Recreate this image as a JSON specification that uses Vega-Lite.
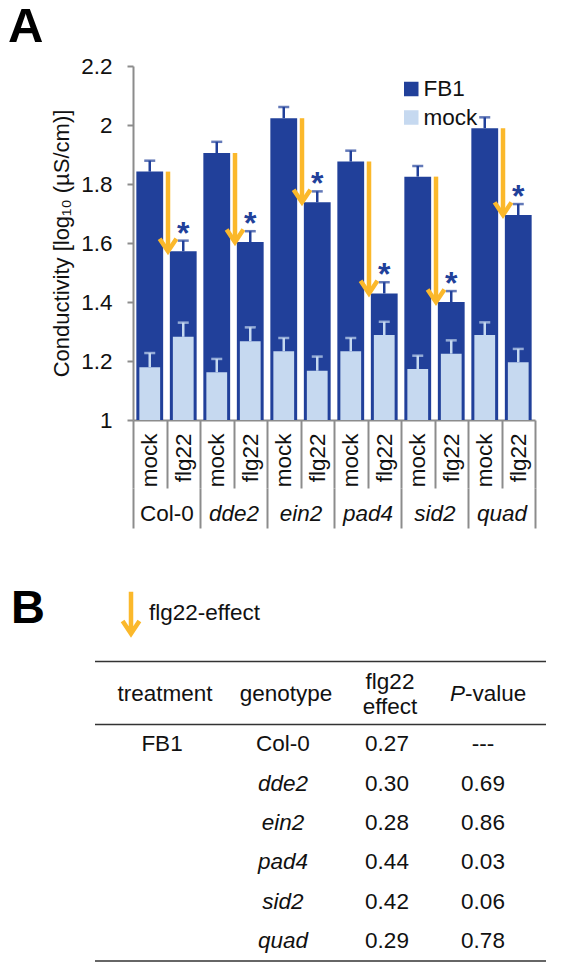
{
  "$schema": "https://vega.github.io/schema/vega-lite/v6.json",
  "background": "white",
  "padding": {"left": 8, "top": 3, "right": 5, "bottom": 5},
  "bounds": "flush",
  "spacing": 265,
  "datasets": {
    "bars": [
      {"bar": "Col-0 mock", "genotype": "Col-0", "elicitor": "mock", "treatment": "FB1", "mean": 1.842, "upper": 1.879},
      {"bar": "Col-0 mock", "genotype": "Col-0", "elicitor": "mock", "treatment": "mock", "mean": 1.179, "upper": 1.227},
      {"bar": "Col-0 flg22", "genotype": "Col-0", "elicitor": "flg22", "treatment": "FB1", "mean": 1.572, "upper": 1.608},
      {"bar": "Col-0 flg22", "genotype": "Col-0", "elicitor": "flg22", "treatment": "mock", "mean": 1.282, "upper": 1.330},
      {"bar": "dde2 mock", "genotype": "dde2", "elicitor": "mock", "treatment": "FB1", "mean": 1.905, "upper": 1.943},
      {"bar": "dde2 mock", "genotype": "dde2", "elicitor": "mock", "treatment": "mock", "mean": 1.162, "upper": 1.207},
      {"bar": "dde2 flg22", "genotype": "dde2", "elicitor": "flg22", "treatment": "FB1", "mean": 1.603, "upper": 1.640},
      {"bar": "dde2 flg22", "genotype": "dde2", "elicitor": "flg22", "treatment": "mock", "mean": 1.267, "upper": 1.314},
      {"bar": "ein2 mock", "genotype": "ein2", "elicitor": "mock", "treatment": "FB1", "mean": 2.023, "upper": 2.061},
      {"bar": "ein2 mock", "genotype": "ein2", "elicitor": "mock", "treatment": "mock", "mean": 1.233, "upper": 1.278},
      {"bar": "ein2 flg22", "genotype": "ein2", "elicitor": "flg22", "treatment": "FB1", "mean": 1.738, "upper": 1.775},
      {"bar": "ein2 flg22", "genotype": "ein2", "elicitor": "flg22", "treatment": "mock", "mean": 1.167, "upper": 1.215},
      {"bar": "pad4 mock", "genotype": "pad4", "elicitor": "mock", "treatment": "FB1", "mean": 1.876, "upper": 1.913},
      {"bar": "pad4 mock", "genotype": "pad4", "elicitor": "mock", "treatment": "mock", "mean": 1.233, "upper": 1.278},
      {"bar": "pad4 flg22", "genotype": "pad4", "elicitor": "flg22", "treatment": "FB1", "mean": 1.429, "upper": 1.467},
      {"bar": "pad4 flg22", "genotype": "pad4", "elicitor": "flg22", "treatment": "mock", "mean": 1.288, "upper": 1.333},
      {"bar": "sid2 mock", "genotype": "sid2", "elicitor": "mock", "treatment": "FB1", "mean": 1.825, "upper": 1.861},
      {"bar": "sid2 mock", "genotype": "sid2", "elicitor": "mock", "treatment": "mock", "mean": 1.173, "upper": 1.218},
      {"bar": "sid2 flg22", "genotype": "sid2", "elicitor": "flg22", "treatment": "FB1", "mean": 1.400, "upper": 1.437},
      {"bar": "sid2 flg22", "genotype": "sid2", "elicitor": "flg22", "treatment": "mock", "mean": 1.225, "upper": 1.270},
      {"bar": "quad mock", "genotype": "quad", "elicitor": "mock", "treatment": "FB1", "mean": 1.989, "upper": 2.026},
      {"bar": "quad mock", "genotype": "quad", "elicitor": "mock", "treatment": "mock", "mean": 1.288, "upper": 1.331},
      {"bar": "quad flg22", "genotype": "quad", "elicitor": "flg22", "treatment": "FB1", "mean": 1.695, "upper": 1.732},
      {"bar": "quad flg22", "genotype": "quad", "elicitor": "flg22", "treatment": "mock", "mean": 1.196, "upper": 1.241}
    ],
    "arrows": [
      {"genotype": "Col-0", "from": 1.842, "to": 1.572},
      {"genotype": "dde2", "from": 1.905, "to": 1.603},
      {"genotype": "ein2", "from": 2.023, "to": 1.738},
      {"genotype": "pad4", "from": 1.876, "to": 1.429},
      {"genotype": "sid2", "from": 1.825, "to": 1.400},
      {"genotype": "quad", "from": 1.989, "to": 1.695}
    ],
    "table": [
      {"treatment": "FB1", "genotype": "Col-0", "effect": "0.27", "p": "---"},
      {"treatment": "", "genotype": "dde2", "effect": "0.30", "p": "0.69"},
      {"treatment": "", "genotype": "ein2", "effect": "0.28", "p": "0.86"},
      {"treatment": "", "genotype": "pad4", "effect": "0.44", "p": "0.03"},
      {"treatment": "", "genotype": "sid2", "effect": "0.42", "p": "0.06"},
      {"treatment": "", "genotype": "quad", "effect": "0.29", "p": "0.78"}
    ],
    "header": [
      {"treatment": "treatment", "genotype": "genotype", "effect": "flg22\neffect", "pP": "P", "pv": "-value"}
    ]
  },
  "vconcat": [
    {
      "title": {"text": "A", "anchor": "start", "frame": "group", "fontSize": 49, "fontWeight": "bold", "color": "#000", "dx": -125, "offset": 3},
      "width": 402,
      "height": 354,
      "layer": [
        {
          "data": {"name": "bars"},
          "encoding": {
            "x": {
              "field": "bar", "type": "nominal", "sort": null,
              "scale": {"type": "band", "paddingInner": 0, "paddingOuter": 0,
                "domain": ["Col-0 mock", "Col-0 flg22", "dde2 mock", "dde2 flg22", "ein2 mock", "ein2 flg22", "pad4 mock", "pad4 flg22", "sid2 mock", "sid2 flg22", "quad mock", "quad flg22"]},
              "axis": {"title": null, "labelExpr": "split(datum.value, ' ')[1]", "labelAngle": -90, "labelAlign": "right", "labelBaseline": "middle",
                "labelFontSize": 22.5, "labelColor": "#111", "labelPadding": -55, "labelOverlap": false,
                "tickBand": "extent", "tickSize": 68, "tickWidth": 2, "tickColor": "#8c8c8c",
                "domainColor": "#8c8c8c", "domainWidth": 2}
            }
          },
          "layer": [
            {
              "transform": [{"filter": "datum.treatment == 'FB1'"}],
              "mark": {"type": "bar", "width": {"band": 0.8}},
              "encoding": {
                "y": {"field": "mean", "type": "quantitative",
                  "scale": {"domain": [1, 2.2], "nice": false, "zero": false},
                  "axis": {"title": "Conductivity [log₁₀ (µS/cm)]", "values": [1, 1.2, 1.4, 1.6, 1.8, 2, 2.2], "format": "~g", "grid": false,
                    "domainColor": "#8c8c8c", "domainWidth": 2, "tickColor": "#8c8c8c", "tickWidth": 2, "tickSize": 6,
                    "labelFontSize": 22.5, "labelColor": "#111", "labelPadding": 15,
                    "titleFontSize": 22, "titleFontWeight": "normal", "titleColor": "#111", "titlePadding": 7}},
                "y2": {"datum": 1},
                "fill": {"field": "treatment", "type": "nominal",
                  "scale": {"domain": ["FB1", "mock"], "range": ["#21409a", "#c6d9f0"]},
                  "legend": {"orient": "none", "direction": "vertical", "legendX": 267, "legendY": 11.8, "title": null, "padding": 0,
                    "symbolType": "square", "symbolSize": 169, "symbolStrokeColor": "#21409a", "symbolStrokeWidth": 1.5,
                    "labelFontSize": 22.5, "labelColor": "#111", "labelOffset": 1, "rowPadding": 5.5}}
              }
            },
            {
              "transform": [{"filter": "datum.treatment == 'mock'"}],
              "mark": {"type": "bar", "width": {"band": 0.62}},
              "encoding": {
                "y": {"field": "mean", "type": "quantitative"},
                "y2": {"datum": 1},
                "fill": {"field": "treatment", "type": "nominal"}
              }
            },
            {
              "mark": {"type": "rule", "strokeWidth": 2.5},
              "encoding": {
                "y": {"field": "mean", "type": "quantitative"},
                "y2": {"field": "upper"},
                "color": {"field": "treatment", "type": "nominal", "scale": {"domain": ["FB1", "mock"], "range": ["#21409a", "#c6d9f0"]}, "legend": null}
              }
            },
            {
              "mark": {"type": "tick", "size": 11, "thickness": 2.5},
              "encoding": {
                "y": {"field": "upper", "type": "quantitative"},
                "color": {"field": "treatment", "type": "nominal", "legend": null}
              }
            },
            {
              "transform": [{"filter": "datum.treatment == 'FB1' && datum.elicitor == 'flg22'"}],
              "mark": {"type": "text", "text": "*", "fontSize": 32, "fontWeight": "bold", "color": "#21409a", "baseline": "alphabetic", "dy": 3},
              "encoding": {
                "y": {"field": "upper", "type": "quantitative"}
              }
            }
          ]
        },
        {
          "data": {"name": "arrows"},
          "encoding": {
            "x": {"field": "genotype", "type": "nominal", "sort": null,
              "scale": {"type": "band", "paddingInner": 0, "paddingOuter": 0, "domain": ["Col-0", "dde2", "ein2", "pad4", "sid2", "quad"]},
              "axis": {"title": null, "orient": "bottom", "offset": 68, "domain": false, "tickBand": "extent", "tickSize": 40, "tickWidth": 2,
                "tickColor": "#8c8c8c", "labelAngle": 0, "labelAlign": "center", "labelBaseline": "middle", "labelFontSize": 22.5, "labelColor": "#111",
                "labelPadding": -15,
                "labelFontStyle": {"condition": {"test": "datum.value === 'Col-0'", "value": "normal"}, "value": "italic"}}},
            "stroke": {"datum": "flg22-effect", "type": "nominal",
              "scale": {"domain": ["flg22-effect"], "range": ["#fbb82b"]},
              "legend": {"orient": "none", "direction": "vertical", "legendX": -26, "legendY": 523.3, "title": null, "padding": 0,
                "symbolType": "M0,-1L0,0.95M-0.39,0.36L0,0.95L0.39,0.36", "symbolSize": 1849, "symbolStrokeWidth": 4.5,
                "symbolFillColor": "transparent", "labelFontSize": 22.5, "labelColor": "#111", "labelOffset": -6}}
          },
          "layer": [
            {
              "mark": {"type": "rule", "strokeWidth": 4.5, "xOffset": 1.5},
              "encoding": {
                "y": {"field": "from", "type": "quantitative"},
                "y2": {"field": "to"}
              }
            },
            {
              "mark": {"type": "point", "shape": "M-0.6,-0.9L0,0L0.6,-0.9", "size": 784, "filled": false, "strokeWidth": 4.5, "opacity": 1, "xOffset": 1.5},
              "encoding": {
                "y": {"field": "to", "type": "quantitative"}
              }
            }
          ]
        }
      ],
      "resolve": {"scale": {"x": "independent"}}
    },
    {
      "title": {"text": "B", "anchor": "start", "frame": "group", "fontSize": 47, "fontWeight": "bold", "color": "#000", "dx": -122, "offset": 28},
      "width": 400,
      "height": 276,
      "data": {"name": "table"},
      "layer": [
        {
          "data": {"name": "header"},
          "mark": {"type": "rule", "strokeWidth": 1.5, "color": "#333", "xOffset": -38, "x2Offset": 13, "yOffset": -23.5},
          "encoding": {
            "x": {"datum": "treatment", "type": "nominal", "bandPosition": 0,
              "scale": {"type": "band", "paddingInner": 0, "paddingOuter": 0, "domain": ["treatment", "genotype", "effect", "pvalue"]},
              "axis": null},
            "x2": {"datum": "pvalue", "bandPosition": 1},
            "y": {"datum": "header", "type": "nominal", "bandPosition": 0,
              "scale": {"type": "band", "paddingInner": 0, "paddingOuter": 0, "domain": ["header", "Col-0", "dde2", "ein2", "pad4", "sid2", "quad"]},
              "axis": null}
          }
        },
        {
          "data": {"name": "header"},
          "mark": {"type": "rule", "strokeWidth": 1.5, "color": "#333", "xOffset": -38, "x2Offset": 13},
          "encoding": {
            "x": {"datum": "treatment", "type": "nominal", "bandPosition": 0},
            "x2": {"datum": "pvalue", "bandPosition": 1},
            "y": {"datum": "Col-0", "type": "nominal", "bandPosition": 0}
          }
        },
        {
          "data": {"name": "header"},
          "mark": {"type": "rule", "strokeWidth": 1.5, "color": "#333", "xOffset": -38, "x2Offset": 13},
          "encoding": {
            "x": {"datum": "treatment", "type": "nominal", "bandPosition": 0},
            "x2": {"datum": "pvalue", "bandPosition": 1},
            "y": {"datum": "quad", "type": "nominal", "bandPosition": 1}
          }
        },
        {
          "data": {"name": "header"},
          "mark": {"type": "text", "fontSize": 22.5, "color": "#111", "dx": -18, "dy": -11},
          "encoding": {
            "x": {"datum": "treatment", "type": "nominal"},
            "y": {"datum": "header", "type": "nominal"},
            "text": {"field": "treatment"}
          }
        },
        {
          "data": {"name": "header"},
          "mark": {"type": "text", "fontSize": 22.5, "color": "#111", "dx": 3, "dy": -11},
          "encoding": {
            "x": {"datum": "genotype", "type": "nominal"},
            "y": {"datum": "header", "type": "nominal"},
            "text": {"field": "genotype"}
          }
        },
        {
          "data": {"name": "header"},
          "mark": {"type": "text", "fontSize": 22.5, "color": "#111", "dx": 7, "dy": -23, "lineBreak": "\n", "lineHeight": 25},
          "encoding": {
            "x": {"datum": "effect", "type": "nominal"},
            "y": {"datum": "header", "type": "nominal"},
            "text": {"field": "effect"}
          }
        },
        {
          "data": {"name": "header"},
          "mark": {"type": "text", "fontSize": 22.5, "color": "#111", "fontStyle": "italic", "align": "right", "dx": -18, "dy": -11},
          "encoding": {
            "x": {"datum": "pvalue", "type": "nominal"},
            "y": {"datum": "header", "type": "nominal"},
            "text": {"field": "pP"}
          }
        },
        {
          "data": {"name": "header"},
          "mark": {"type": "text", "fontSize": 22.5, "color": "#111", "align": "left", "dx": -18, "dy": -11},
          "encoding": {
            "x": {"datum": "pvalue", "type": "nominal"},
            "y": {"datum": "header", "type": "nominal"},
            "text": {"field": "pv"}
          }
        },
        {
          "mark": {"type": "text", "fontSize": 22.5, "color": "#111", "dx": -21},
          "encoding": {
            "x": {"datum": "treatment", "type": "nominal"},
            "y": {"field": "genotype", "type": "nominal"},
            "text": {"field": "treatment"}
          }
        },
        {
          "transform": [{"filter": "datum.genotype == 'Col-0'"}],
          "mark": {"type": "text", "fontSize": 22.5, "color": "#111"},
          "encoding": {
            "x": {"datum": "genotype", "type": "nominal"},
            "y": {"field": "genotype", "type": "nominal"},
            "text": {"field": "genotype"}
          }
        },
        {
          "transform": [{"filter": "datum.genotype != 'Col-0'"}],
          "mark": {"type": "text", "fontSize": 22.5, "color": "#111", "fontStyle": "italic"},
          "encoding": {
            "x": {"datum": "genotype", "type": "nominal"},
            "y": {"field": "genotype", "type": "nominal"},
            "text": {"field": "genotype"}
          }
        },
        {
          "mark": {"type": "text", "fontSize": 22.5, "color": "#111", "dx": 4},
          "encoding": {
            "x": {"datum": "effect", "type": "nominal"},
            "y": {"field": "genotype", "type": "nominal"},
            "text": {"field": "effect"}
          }
        },
        {
          "mark": {"type": "text", "fontSize": 22.5, "color": "#111"},
          "encoding": {
            "x": {"datum": "pvalue", "type": "nominal"},
            "y": {"field": "genotype", "type": "nominal"},
            "text": {"field": "p"}
          }
        }
      ]
    }
  ],
  "config": {
    "font": "Liberation Sans",
    "view": {"stroke": null},
    "text": {"font": "Liberation Sans"}
  }
}
